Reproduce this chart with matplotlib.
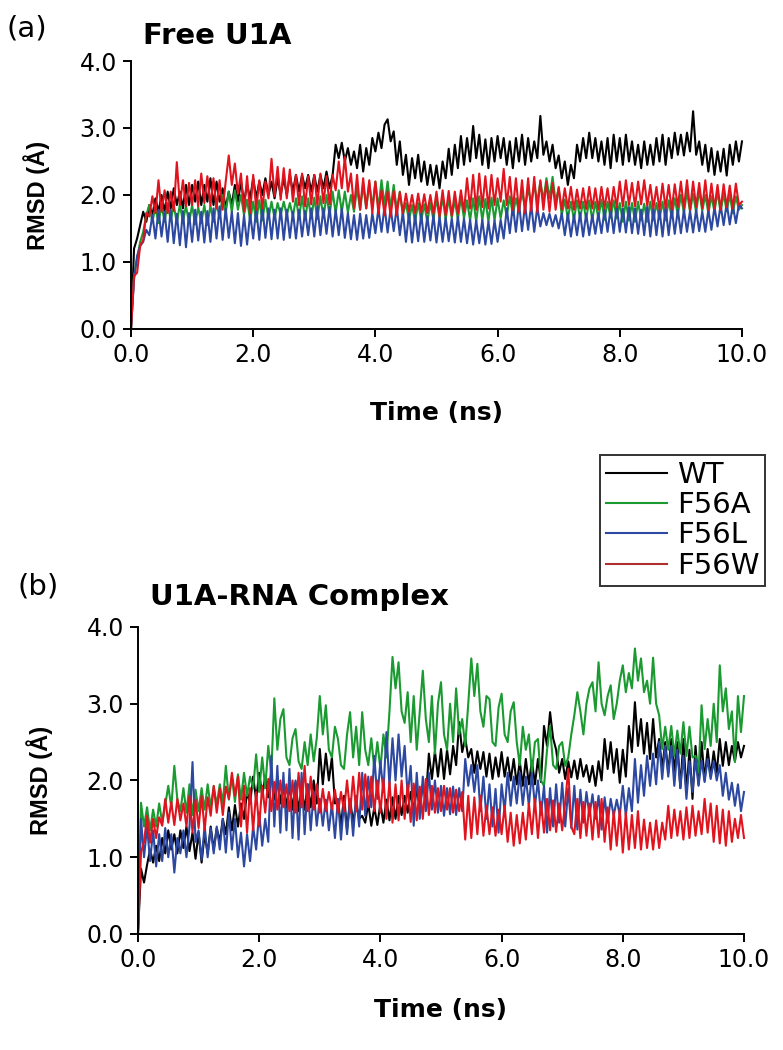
from matplotlib import pyplot as plt
from matplotlib.lines import Line2D
import numpy as np

# sampling times (ns), one value every 0.05 ns
time_ns = np.linspace(0.0, 10.0, 201)

labels = ["WT", "F56A", "F56L", "F56W"]
colors = ["#000000", "#1a9a30", "#2c48a0", "#e0141e"]
legend_colors = ["#000000", "#1a9a30", "#2c48a0", "#b03030"]

# (a) free U1A, RMSD in Angstrom (each row = 0.5 ns)
free_wt = [0.00, 1.20, 1.35, 1.55, 1.75, 1.60, 1.85, 1.70, 1.95, 1.75,
           2.00, 1.75, 2.05, 1.80, 2.10, 1.85, 2.05, 1.80, 2.15, 1.85,
           2.15, 1.90, 2.20, 1.85, 2.15, 1.90, 2.25, 1.85, 2.20, 1.90,
           2.10, 1.80, 2.05, 1.85, 2.15, 1.90, 2.20, 1.90, 2.15, 1.95,
           2.25, 1.95, 2.20, 2.00, 2.25, 2.00, 2.20, 1.95, 2.25, 2.00,
           2.25, 2.00, 2.30, 2.05, 2.30, 2.05, 2.30, 2.10, 2.30, 2.05,
           2.30, 2.05, 2.30, 2.10, 2.35, 2.10, 2.30, 2.75, 2.55, 2.78,
           2.50, 2.70, 2.45, 2.65, 2.40, 2.75, 2.35, 2.70, 2.45, 2.85,
           2.65, 2.93, 2.70, 3.05, 3.13, 2.80, 2.95, 2.45, 2.80, 2.30,
           2.60, 2.15, 2.55, 2.25, 2.60, 2.20, 2.50, 2.15, 2.45, 2.15,
           2.44, 2.10, 2.50, 2.25, 2.69, 2.30, 2.75, 2.40, 2.88, 2.45,
           2.85, 2.50, 3.03, 2.55, 2.90, 2.45, 2.83, 2.40, 2.85, 2.50,
           2.88, 2.55, 2.85, 2.45, 2.80, 2.40, 2.85, 2.50, 2.90, 2.45,
           2.85, 2.50, 2.80, 2.55, 3.18, 2.60, 2.80, 2.50, 2.75, 2.40,
           2.59, 2.25, 2.50, 2.15, 2.45, 2.25, 2.75, 2.50, 2.85, 2.55,
           2.93, 2.55, 2.85, 2.50, 2.80, 2.45, 2.85, 2.40, 2.90, 2.50,
           2.85, 2.45, 2.90, 2.50, 2.80, 2.45, 2.75, 2.40, 2.80, 2.45,
           2.75, 2.45, 2.85, 2.50, 2.90, 2.45, 2.85, 2.55, 2.93, 2.60,
           2.90, 2.59, 2.93, 2.65, 3.25, 2.60, 2.80, 2.45, 2.75, 2.35,
           2.70, 2.30, 2.65, 2.35, 2.69, 2.29, 2.75, 2.45, 2.80, 2.50,
           2.80]
free_f56a = [0.00, 0.80, 1.05, 1.30, 1.45, 1.70, 1.85, 1.60, 1.82, 1.58,
             1.85, 1.60, 1.88, 1.62, 1.85, 1.58, 1.86, 1.60, 1.84, 1.58,
             1.85, 1.56, 1.82, 1.58, 1.85, 1.55, 1.84, 1.60, 1.88, 1.65,
             2.00, 1.73, 2.05, 1.75, 2.07, 1.78, 2.00, 1.70, 1.93, 1.62,
             1.90, 1.60, 1.92, 1.62, 1.93, 1.65, 1.90, 1.65, 1.88, 1.70,
             1.90, 1.70, 1.88, 1.68, 1.95, 1.65, 1.98, 1.63, 1.95, 1.65,
             1.96, 1.64, 1.98, 1.66, 2.00, 1.70, 2.05, 1.73, 2.07, 1.75,
             2.05, 1.74, 2.00, 1.75, 2.10, 1.78, 2.15, 1.80, 2.18, 1.82,
             2.20, 1.80, 2.22, 1.85, 2.20, 1.80, 2.15, 1.78, 2.05, 1.70,
             1.88, 1.62, 1.85, 1.60, 1.88, 1.62, 1.86, 1.60, 1.88, 1.63,
             1.95, 1.65, 1.98, 1.63, 1.95, 1.66, 1.92, 1.64, 1.96, 1.65,
             1.92, 1.62, 1.95, 1.60, 1.98, 1.62, 1.94, 1.60, 1.96, 1.62,
             1.95, 1.65, 1.92, 1.68, 1.98, 1.70, 1.95, 1.75, 2.05, 1.80,
             2.10, 1.88, 2.15, 1.90, 2.20, 1.92, 2.25, 1.95, 2.27, 1.90,
             2.10, 1.70, 1.93, 1.65, 1.90, 1.63, 1.92, 1.65, 1.90, 1.64,
             1.92, 1.63, 1.90, 1.65, 1.93, 1.63, 1.90, 1.66, 1.92, 1.65,
             1.88, 1.60, 1.90, 1.62, 1.88, 1.60, 1.90, 1.62, 1.87, 1.60,
             1.90, 1.62, 1.88, 1.64, 1.90, 1.62, 1.92, 1.66, 1.95, 1.70,
             2.00, 1.73, 2.05, 1.75, 2.02, 1.74, 2.07, 1.76, 2.00, 1.73,
             1.98, 1.75, 2.05, 1.74, 2.02, 1.76, 2.00, 1.73, 1.98, 1.78,
             1.85]
free_f56l = [0.00, 0.74, 1.09, 1.24, 1.30, 1.48, 1.40, 1.70, 1.35, 1.78,
             1.38, 1.75, 1.30, 1.78, 1.28, 1.72, 1.25, 1.76, 1.22, 1.73,
             1.30, 1.78, 1.32, 1.75, 1.29, 1.76, 1.30, 1.80, 1.35, 1.83,
             1.33, 1.80, 1.36, 1.75, 1.28, 1.73, 1.24, 1.70, 1.26, 1.72,
             1.35, 1.80, 1.33, 1.83, 1.36, 1.80, 1.34, 1.78, 1.35, 1.80,
             1.33, 1.78, 1.36, 1.75, 1.35, 1.78, 1.38, 1.76, 1.40, 1.80,
             1.38, 1.83, 1.40, 1.80, 1.42, 1.82, 1.38, 1.78, 1.40, 1.80,
             1.36, 1.73, 1.34, 1.70, 1.33, 1.72, 1.35, 1.70, 1.36, 1.73,
             1.43, 1.80, 1.45, 1.83, 1.44, 1.80, 1.46, 1.82, 1.40, 1.75,
             1.30, 1.73, 1.29, 1.70, 1.31, 1.72, 1.30, 1.68, 1.32, 1.70,
             1.29, 1.68, 1.30, 1.66, 1.31, 1.65, 1.29, 1.68, 1.30, 1.65,
             1.28, 1.63, 1.26, 1.62, 1.28, 1.63, 1.26, 1.60, 1.27, 1.62,
             1.30, 1.63, 1.35, 1.80, 1.43, 1.85, 1.45, 1.88, 1.46, 1.85,
             1.48, 1.86, 1.45, 1.82, 1.53, 1.73, 1.55, 1.72, 1.53, 1.70,
             1.50, 1.73, 1.40, 1.72, 1.38, 1.70, 1.40, 1.73, 1.38, 1.72,
             1.40, 1.70, 1.42, 1.73, 1.43, 1.78, 1.45, 1.80, 1.43, 1.83,
             1.45, 1.80, 1.44, 1.82, 1.43, 1.80, 1.42, 1.78, 1.40, 1.83,
             1.38, 1.80, 1.40, 1.78, 1.38, 1.82, 1.40, 1.80, 1.42, 1.78,
             1.43, 1.78, 1.45, 1.76, 1.44, 1.78, 1.46, 1.75, 1.45, 1.78,
             1.48, 1.82, 1.53, 1.85, 1.55, 1.88, 1.56, 1.85, 1.58, 1.86,
             1.80]
free_f56w = [0.00, 0.79, 0.84, 1.24, 1.33, 1.73, 1.68, 1.98, 1.73, 2.22,
             1.75, 2.07, 1.73, 2.05, 1.76, 2.49, 1.85, 2.22, 1.83, 2.18,
             1.85, 2.22, 1.83, 2.32, 1.88, 2.28, 1.84, 2.25, 1.80, 2.22,
             1.78, 2.20, 2.59, 2.15, 2.47, 2.02, 2.32, 1.75, 2.28, 1.73,
             2.30, 1.78, 2.22, 1.80, 2.20, 1.95, 2.54, 1.98, 2.42, 1.93,
             2.40, 1.95, 2.38, 1.90, 2.30, 1.85, 2.32, 1.83, 2.28, 1.86,
             2.30, 1.85, 2.32, 1.88, 2.28, 1.86, 2.30, 2.07, 2.50, 2.10,
             2.57, 2.05, 2.32, 1.80, 2.30, 1.78, 2.25, 1.80, 2.22, 1.73,
             2.20, 1.72, 2.07, 1.70, 2.05, 1.68, 2.06, 1.70, 2.04, 1.73,
             2.02, 1.75, 2.00, 1.73, 2.02, 1.74, 2.01, 1.73, 2.00, 1.72,
             2.05, 1.68, 2.07, 1.70, 2.06, 1.69, 2.05, 1.72, 2.07, 1.75,
             2.25, 1.80, 2.30, 1.78, 2.32, 1.82, 2.28, 1.80, 2.30, 1.85,
             2.25, 1.90, 2.39, 1.85, 2.27, 1.78, 2.25, 1.75, 2.22, 1.73,
             2.25, 1.76, 2.27, 1.74, 2.22, 1.78, 2.20, 1.75, 2.18, 1.78,
             2.12, 1.78, 2.10, 1.80, 2.12, 1.78, 2.08, 1.80, 2.10, 1.79,
             2.12, 1.80, 2.10, 1.78, 2.12, 1.80, 2.10, 1.78, 2.12, 1.82,
             2.20, 1.83, 2.22, 1.85, 2.18, 1.83, 2.20, 1.86, 2.22, 1.84,
             2.15, 1.80, 2.12, 1.78, 2.17, 1.80, 2.15, 1.78, 2.16, 1.82,
             2.20, 1.80, 2.22, 1.78, 2.20, 1.82, 2.18, 1.80, 2.22, 1.78,
             2.17, 1.80, 2.15, 1.78, 2.16, 1.82, 2.14, 1.80, 2.17, 1.85,
             1.90]

# (b) U1A-RNA complex
cplx_wt = [0.00, 0.85, 0.67, 0.90, 1.10, 0.93, 1.15, 0.95, 1.25, 1.05,
           1.35, 1.10, 1.30, 1.05, 1.35, 1.12, 1.40, 1.08, 1.32, 0.98,
           1.32, 0.93, 1.30, 1.05, 1.40, 1.10, 1.38, 1.20, 1.50, 1.30,
           1.65, 1.35, 1.68, 1.40, 1.70, 1.50, 1.85, 1.70, 2.05, 1.75,
           2.10, 1.80, 2.05, 1.78, 2.10, 1.75, 2.05, 1.70, 1.95, 1.65,
           1.95, 1.62, 1.98, 1.60, 1.90, 1.62, 1.95, 1.65, 2.00, 1.70,
           2.41, 1.95, 2.35, 2.00, 2.30, 1.70, 1.75, 1.40, 1.80, 1.36,
           1.75, 1.45, 1.70, 1.50, 1.54, 1.45, 1.70, 1.41, 1.65, 1.42,
           1.70, 1.45, 1.75, 1.48, 1.78, 1.50, 1.80, 1.55, 1.80, 1.58,
           1.85, 1.60, 1.90, 1.65, 1.95, 1.75, 2.35, 2.02, 2.38, 2.05,
           2.41, 2.02, 2.40, 2.08, 2.45, 2.20, 2.76, 2.37, 2.55, 2.30,
           2.41, 2.10, 2.38, 2.15, 2.37, 2.05, 2.35, 2.02, 2.30, 2.05,
           2.37, 2.05, 2.30, 2.00, 2.28, 1.95, 2.25, 1.93, 2.28, 1.95,
           2.26, 1.95, 2.28, 1.98, 2.71, 2.45, 2.89, 2.55, 2.40, 2.10,
           2.28, 2.02, 2.25, 2.04, 2.26, 2.02, 2.28, 2.05, 2.20, 1.98,
           2.19, 1.93, 2.25, 2.00, 2.54, 2.15, 2.50, 2.10, 2.41, 1.97,
           2.40, 2.05, 2.71, 2.37, 3.02, 2.45, 2.80, 2.35, 2.75, 2.28,
           2.80, 2.30, 2.54, 2.15, 2.50, 2.10, 2.54, 2.12, 2.50, 1.90,
           2.54, 1.85, 2.40, 1.76, 2.45, 1.95, 2.50, 2.00, 2.41, 2.05,
           2.38, 2.10, 2.54, 2.19, 2.50, 2.20, 2.45, 2.25, 2.50, 2.30,
           2.45]
cplx_f56a = [0.00, 1.71, 1.40, 1.65, 1.35, 1.62, 1.40, 1.70, 1.45, 1.68,
             1.93, 1.65, 2.19, 1.75, 1.60, 1.90, 1.58, 1.95, 1.55, 1.88,
             1.60, 1.90, 1.62, 1.95, 1.65, 1.92, 1.68, 1.95, 1.70, 2.19,
             1.75, 2.05, 1.72, 2.08, 1.75, 2.10, 1.80, 2.05, 1.90, 2.34,
             1.85, 2.30, 1.90, 2.45, 2.10, 3.07, 2.40, 2.80, 2.93, 2.30,
             2.20, 2.55, 2.67, 2.25, 2.15, 2.50, 2.20, 2.60, 2.25, 2.55,
             3.10, 2.60, 2.98, 2.40, 2.30, 2.70, 2.54, 2.20, 2.15, 2.60,
             2.89, 2.30, 2.70, 2.20, 2.89, 2.40, 2.20, 2.55, 2.15, 2.50,
             2.15, 2.60, 2.30, 2.90, 3.61, 3.20, 3.54, 2.90, 2.75, 3.15,
             2.50, 3.10, 2.40, 2.90, 3.43, 2.80, 2.50, 3.10, 2.35, 3.00,
             3.28, 2.60, 2.40, 3.00, 2.50, 3.20, 2.60, 2.80, 2.45, 3.00,
             3.59, 3.10, 3.52, 2.90, 2.70, 3.10, 3.06, 2.50, 2.45, 2.95,
             3.13, 2.60, 2.50, 2.90, 3.02, 2.50, 2.20, 2.70, 2.40, 2.60,
             2.10, 2.50, 2.54, 2.00, 1.93, 2.40, 2.71, 2.20, 2.15, 2.45,
             2.50, 2.19, 2.30, 2.60, 2.85, 3.15, 2.90, 2.60, 3.00, 3.20,
             3.28, 2.90, 3.54, 3.00, 2.85, 3.10, 3.24, 2.80, 3.00, 3.30,
             3.50, 3.15, 3.40, 3.20, 3.72, 3.30, 3.59, 3.15, 3.30, 3.00,
             3.60, 3.00, 2.85, 2.41, 2.70, 2.40, 2.71, 2.32, 2.65, 2.35,
             2.76, 2.32, 2.70, 2.30, 2.32, 2.10, 2.98, 2.41, 2.80, 2.45,
             3.00, 2.50, 3.50, 2.90, 3.20, 2.67, 2.90, 2.24, 3.10, 2.63,
             3.10]
cplx_f56l = [0.00, 1.50, 1.00, 1.40, 0.95, 1.35, 0.88, 1.30, 0.95, 1.38,
             1.00, 1.30, 0.80, 1.25, 1.05, 1.35, 1.00, 1.40, 2.24, 1.20,
             1.35, 0.97, 1.41, 1.00, 1.38, 1.05, 1.40, 1.10, 1.50, 1.06,
             1.58, 1.10, 1.50, 1.00, 1.32, 0.88, 1.30, 0.95, 1.40, 1.10,
             1.58, 1.15, 1.50, 1.20, 2.32, 1.40, 2.19, 1.32, 2.10, 1.35,
             2.15, 1.25, 2.00, 1.23, 2.10, 1.30, 1.95, 1.35, 1.85, 1.41,
             1.76, 1.41, 1.75, 1.35, 1.70, 1.25, 1.76, 1.23, 1.72, 1.30,
             1.76, 1.28, 1.80, 1.40, 2.10, 1.54, 2.05, 1.65, 2.32, 1.76,
             2.25, 1.85, 2.63, 1.93, 2.55, 2.00, 2.60, 2.05, 2.45, 1.80,
             2.19, 1.41, 2.10, 1.50, 2.05, 1.60, 2.10, 1.62, 2.00, 1.58,
             1.93, 1.54, 1.90, 1.56, 1.92, 1.55, 1.90, 1.60, 2.28, 1.93,
             2.20, 1.85, 2.20, 1.60, 2.05, 1.50, 1.95, 1.40, 1.89, 1.32,
             1.95, 1.60, 2.10, 1.67, 2.05, 1.70, 2.10, 1.68, 2.05, 1.67,
             2.10, 1.67, 2.00, 1.55, 1.93, 1.32, 1.90, 1.40, 1.95, 1.45,
             1.97, 1.40, 1.90, 1.38, 1.93, 1.36, 1.88, 1.45, 1.85, 1.54,
             1.82, 1.50, 1.80, 1.36, 1.78, 1.45, 1.76, 1.54, 1.75, 1.55,
             1.93, 1.54, 1.90, 1.60, 2.28, 1.71, 2.20, 1.80, 2.32, 1.93,
             2.35, 1.95, 2.50, 2.02, 2.45, 2.05, 2.45, 1.93, 2.40, 1.90,
             2.32, 1.76, 2.25, 1.85, 2.28, 1.93, 2.26, 1.98, 2.28, 2.02,
             2.25, 2.00, 2.20, 1.80, 2.10, 1.75, 1.97, 1.67, 1.95, 1.60,
             1.85]
cplx_f56w = [0.00, 1.06, 1.20, 1.54, 1.19, 1.50, 1.25, 1.52, 1.41, 1.76,
             1.45, 1.72, 1.42, 1.76, 1.48, 1.70, 1.40, 1.80, 1.32, 1.75,
             1.38, 1.80, 1.35, 1.78, 1.54, 1.93, 1.58, 1.90, 1.55, 1.92,
             1.76, 2.10, 1.80, 2.05, 1.40, 1.93, 1.32, 1.90, 1.35, 1.85,
             1.40, 1.93, 1.58, 2.02, 1.60, 1.98, 1.62, 2.00, 1.65, 1.95,
             1.60, 2.00, 1.58, 2.10, 1.65, 2.19, 1.60, 2.05, 1.62, 1.95,
             1.58, 1.89, 1.60, 1.85, 1.62, 1.88, 1.58, 1.85, 1.60, 2.00,
             1.58, 2.05, 1.60, 2.10, 1.62, 2.08, 1.65, 2.05, 1.60, 2.00,
             1.58, 2.02, 1.50, 1.98, 1.45, 1.95, 1.48, 2.00, 1.50, 1.95,
             1.46, 1.96, 1.48, 1.92, 1.50, 2.02, 1.55, 1.93, 1.58, 1.90,
             1.60, 1.93, 1.62, 1.90, 1.58, 1.88, 1.60, 1.85, 1.23, 1.80,
             1.25, 1.78, 1.30, 1.80, 1.28, 1.67, 1.30, 1.65, 1.28, 1.62,
             1.30, 1.67, 1.20, 1.58, 1.15, 1.55, 1.18, 1.58, 1.23, 1.70,
             1.30, 1.76, 1.25, 1.72, 1.32, 1.76, 1.35, 1.74, 1.33, 1.70,
             1.35, 1.72, 2.15, 1.40, 1.30, 1.76, 1.25, 1.72, 1.28, 1.70,
             1.23, 1.72, 1.26, 1.76, 1.20, 1.65, 1.10, 1.60, 1.15, 1.62,
             1.06, 1.58, 1.10, 1.55, 1.12, 1.60, 1.10, 1.49, 1.12, 1.45,
             1.10, 1.48, 1.12, 1.45, 1.23, 1.67, 1.25, 1.62, 1.28, 1.60,
             1.23, 1.65, 1.25, 1.67, 1.28, 1.60, 1.30, 1.76, 1.32, 1.70,
             1.20, 1.67, 1.18, 1.62, 1.15, 1.60, 1.20, 1.50, 1.25, 1.55,
             1.25]

y_ticks = [0.0, 1.0, 2.0, 3.0, 4.0]
x_ticks = [0.0, 2.0, 4.0, 6.0, 8.0, 10.0]

# the original lettering is rather wide, DejaVu is closer than Arial
plt.rcParams['font.family'] = ['DejaVu Sans']


def style_axes(ax):
    ax.set_xlim(0, 10)
    ax.set_ylim(0, 4)
    ax.spines["top"].set_visible(False)
    ax.spines["right"].set_visible(False)
    for s in ("left", "bottom"):
        ax.spines[s].set_linewidth(1.4)
    ax.set_xticks(x_ticks)
    ax.set_yticks(y_ticks)
    ax.set_xticklabels([f"{v:.1f}" for v in x_ticks])
    ax.set_yticklabels([f"{v:.1f}" for v in y_ticks])
    ax.tick_params(direction="out", length=6, width=1.4, pad=4, labelsize=17)
    ax.set_xlabel("Time (ns)", fontsize=18, fontweight="bold")
    ax.set_ylabel("RMSD (Å)", fontsize=17, fontweight="bold",
                  family="Liberation Sans")


def draw_panel(ax, series):
    for vals, c in zip(series, colors):
        ax.plot(time_ns, vals, color=c, lw=1.5, clip_on=False)
    style_axes(ax)


def main():
    fig = plt.figure(figsize=(7.83, 10.5), dpi=100)

    ax_a = fig.add_axes([0.1673, 0.6867, 0.7803, 0.2552])
    draw_panel(ax_a, [free_wt, free_f56a, free_f56l, free_f56w])
    ax_a.xaxis.set_label_coords(0.5, -0.27)
    ax_a.yaxis.set_label_coords(-0.132, 0.5)

    ax_b = fig.add_axes([0.1762, 0.1105, 0.7740, 0.2924])
    draw_panel(ax_b, [cplx_wt, cplx_f56a, cplx_f56l, cplx_f56w])
    ax_b.xaxis.set_label_coords(0.5, -0.21)
    ax_b.yaxis.set_label_coords(-0.14, 0.5)

    fig.text(0.008, 0.973, "(a)", fontsize=21, va="center", ha="left")
    fig.text(0.182, 0.966, "Free U1A", fontsize=21, fontweight="bold",
             va="center", ha="left")
    fig.text(0.022, 0.441, "(b)", fontsize=21, va="center", ha="left")
    fig.text(0.191, 0.431, "U1A-RNA Complex", fontsize=21, fontweight="bold",
             va="center", ha="left")

    handles = [Line2D([], [], color=c, lw=1.5) for c in legend_colors]
    leg = fig.legend(handles, labels, loc="upper left",
                     bbox_to_anchor=(0.766, 0.5667), fontsize=21,
                     frameon=True, fancybox=False, handlelength=2.1,
                     handletextpad=0.35, labelspacing=0.08, borderpad=0.2,
                     borderaxespad=0.0)
    leg.get_frame().set_edgecolor("black")
    leg.get_frame().set_linewidth(1.4)

    fig.savefig("out.png", dpi=100)


if __name__ == "__main__":
    main()
